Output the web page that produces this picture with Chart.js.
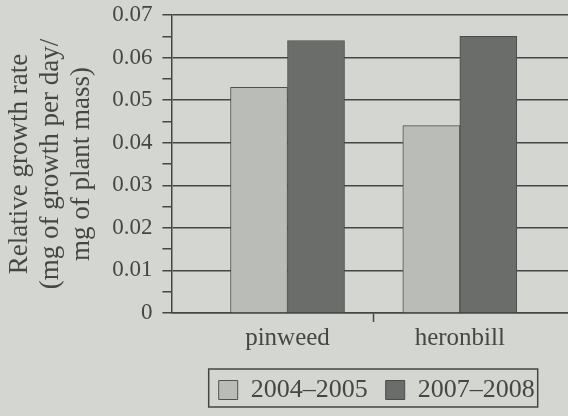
<!DOCTYPE html>
<html>
<head>
<meta charset="utf-8">
<script src="https://cdn.jsdelivr.net/npm/chart.js@4"></script>
<style>
  html, body { margin: 0; padding: 0; background: #d3d6d1; }
  #wrap { width: 568px; height: 416px; }
</style>
</head>
<body>
<div id="wrap"><canvas id="chart"></canvas></div>
<script>
const species = ['pinweed', 'heronbill'];
const periods = ['2004–2005', '2007–2008'];
const rate0405 = [0.053, 0.044];
const rate0708 = [0.064, 0.065];
const axisTitle = ['Relative growth rate', '(mg of growth per day/', 'mg of plant mass)'];

const ink = '#454745';
const serif = 'Liberation Serif';

// position of each species on the linear x scale
const xPos = species.map((s, i) => i + 1);

const isMajor = v => Math.round(v * 1000) % 10 === 0;

// box round the legend, as in the printed figure (legend sits a bit right of centre)
const legendFrame = {
  id: 'legendFrame',
  afterLayout(chart) {
    if (!chart.legend) return;
    chart.legend.left += 7;
    chart.legend.right += 7;
  },
  afterDraw(chart) {
    const boxes = chart.legend && chart.legend.legendHitBoxes;
    if (!boxes || !boxes.length) return;
    const ctx = chart.ctx;
    const left = Math.min(...boxes.map(b => b.left)) - 10;
    const right = Math.max(...boxes.map(b => b.left + b.width)) + 3;
    const top = Math.min(...boxes.map(b => b.top)) - 8;
    const bottom = Math.max(...boxes.map(b => b.top + b.height)) + 4;
    ctx.save();
    ctx.strokeStyle = ink;
    ctx.lineWidth = 1.5;
    ctx.strokeRect(left, top, right - left, bottom - top);
    ctx.restore();
  }
};

new Chart(document.getElementById('chart'), {
  type: 'bar',
  data: {
    datasets: [
      {
        label: periods[0],
        data: xPos.map((x, i) => ({ x, y: rate0405[i] })),
        backgroundColor: '#b9bcb7',
        borderColor: '#505250',
        borderWidth: 1
      },
      {
        label: periods[1],
        data: xPos.map((x, i) => ({ x, y: rate0708[i] })),
        backgroundColor: '#6b6d6a',
        borderColor: '#4a4c4a',
        borderWidth: 1
      }
    ]
  },
  options: {
    responsive: true,
    maintainAspectRatio: false,
    animation: false,
    barThickness: 57,
    layout: { padding: { left: 4, right: 0, top: 1, bottom: 3 } },
    plugins: {
      tooltip: { enabled: false },
      legend: {
        position: 'bottom',
        fullSize: false,
        labels: {
          boxWidth: 19,
          boxHeight: 19,
          padding: 18,
          color: ink,
          font: { family: serif, size: 26 }
        }
      }
    },
    scales: {
      x: {
        type: 'linear',
        offset: false,
        min: 0.326,
        max: 2.628,
        afterBuildTicks: scale => {
          scale.ticks = [1, 1.5, 2].map(value => ({ value }));
        },
        // extra room under the species names
        afterFit: scale => {
          scale.height += 5;
        },
        ticks: {
          autoSkip: false,
          maxRotation: 0,
          padding: 1,
          color: ink,
          font: { family: serif, size: 25 },
          callback: v => species[v - 1] || ''
        },
        grid: {
          offset: false,
          drawOnChartArea: false,
          tickLength: 9,
          tickWidth: 1.5,
          tickColor: ctx => (ctx.tick && ctx.tick.value === 1.5 ? ink : 'transparent')
        },
        border: { display: true, color: ink, width: 1.5 }
      },
      y: {
        min: 0,
        max: 0.07,
        // the wide label gap should not push the plot down
        afterFit: scale => {
          scale.paddingTop = 15;
        },
        title: {
          display: true,
          text: axisTitle,
          color: ink,
          font: { family: serif, size: 27, lineHeight: 1.15 },
          padding: { top: 0, bottom: 5 }
        },
        ticks: {
          stepSize: 0.005,
          autoSkip: false,
          padding: 10,
          color: ink,
          font: { family: serif, size: 23 },
          callback: v => {
            if (!isMajor(v)) return '';
            return v === 0 ? '0' : (Math.round(v * 100) / 100).toFixed(2);
          }
        },
        grid: {
          lineWidth: 1.5,
          tickLength: 9,
          color: ctx => (ctx.tick && isMajor(ctx.tick.value) ? ink : 'transparent'),
          tickColor: ink
        },
        border: { display: true, color: ink, width: 1.5 }
      }
    }
  },
  plugins: [legendFrame]
});
</script>
</body>
</html>
